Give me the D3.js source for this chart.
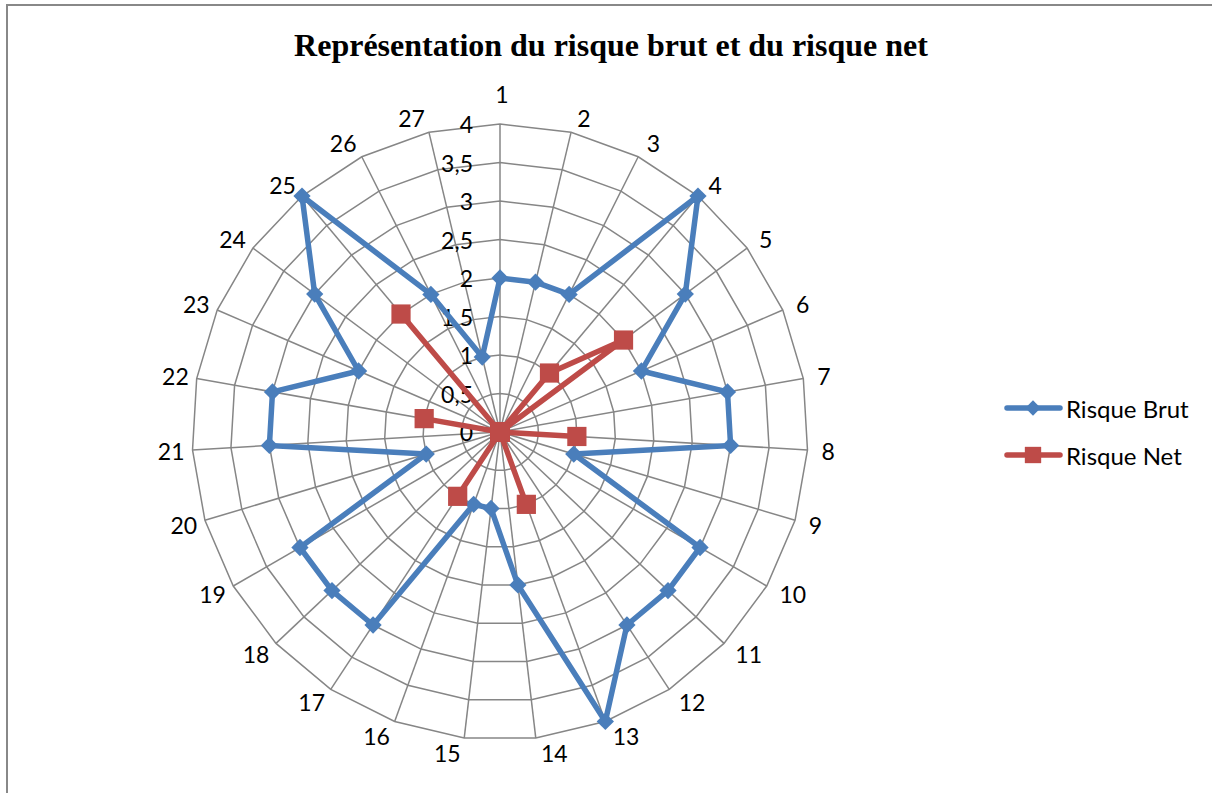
<html>
<head>
  <script src="https://d3js.org/d3.v7.min.js"></script>
  <style>
    body { margin: 0; background: #fff; }
    .grid line, .grid polygon { stroke: #868686; stroke-width: 1.5; fill: none; }
    text { font-family: Lato, "Liberation Sans", sans-serif; fill: #000; }
  </style>
</head>
<body>
<svg id="radar" width="1212" height="793"></svg>

<script>
  // data
  const categories = d3.range(1, 28).map(String);
  const risqueBrut = [2, 2, 2, 4, 3, 2, 3, 3, 1, 3, 3, 3, 4, 2, 1, 1, 3, 3, 3, 1, 3, 3, 2, 3, 4, 2, 1];
  const risqueNet  = [0, 0, 0, 1, 2, 0, 0, 1, 0, 0, 0, 0, 1, 0, 0, 0, 1, 0, 0, 0, 0, 1, 0, 0, 2, 0, 0];
  const tickValues = [0, 0.5, 1, 1.5, 2, 2.5, 3, 3.5, 4];
  const seriesNames = ["Risque Brut", "Risque Net"];
  const seriesColors = ["#4a7ebb", "#be4b48"];

  const svg = d3.select("svg#radar");
  const cx = 500, cy = 432, R = 308;

  const rScale = d3.scaleLinear().domain([0, 4]).range([0, R]);
  const aScale = d3.scaleLinear().domain([0, categories.length]).range([0, 2 * Math.PI]);
  const fmt = d3.formatLocale({decimal: ",", thousands: " ", grouping: [3], currency: ["", "€"]}).format("~g");

  // outer frame of the chart area
  svg.append("rect")
    .attr("x", 7).attr("y", 5)
    .attr("width", 1300).attr("height", 900)
    .attr("fill", "none").attr("stroke", "#888").attr("stroke-width", 2);

  svg.append("text")
    .attr("x", 611).attr("y", 56)
    .attr("text-anchor", "middle")
    .style("font-family", "'Liberation Serif', 'Times New Roman', serif")
    .style("font-weight", "bold")
    .style("font-size", "32px")
    .text("Représentation du risque brut et du risque net");

  let chart = svg.append("g").attr("transform", "translate(" + cx + "," + cy + ")");

  const px = (i, v) => Math.sin(aScale(i)) * rScale(v);
  const py = (i, v) => -Math.cos(aScale(i)) * rScale(v);

  // grid: polygon rings + spokes
  let grid = chart.append("g").attr("class", "grid");
  grid.selectAll("polygon").data(tickValues.filter(t => t > 0))
    .join("polygon")
    .attr("points", t => categories.map((c, i) => px(i, t) + "," + py(i, t)).join(" "));
  grid.selectAll("line").data(categories)
    .join("line")
    .attr("x1", 0).attr("y1", 0)
    .attr("x2", (c, i) => px(i, 4))
    .attr("y2", (c, i) => py(i, 4));

  // category labels, placed like excel does: beside the outer vertex
  chart.selectAll("text.cat").data(categories)
    .join("text")
    .attr("class", "cat")
    .style("font-size", "23px")
    .attr("dominant-baseline", "central")
    .attr("text-anchor", (c, i) => {
      let s = Math.sin(aScale(i));
      return Math.abs(s) < 0.05 ? "middle" : (s > 0 ? "start" : "end");
    })
    .attr("x", (c, i) => {
      let s = Math.sin(aScale(i));
      if (Math.abs(s) < 0.05) return px(i, 4) + 2;
      return px(i, 4) + (s > 0 ? 4 + 10 * s : -(3 + 5 * Math.abs(s)));
    })
    .attr("y", (c, i) => {
      let s = Math.sin(aScale(i)), co = Math.cos(aScale(i));
      return py(i, 4) - co * (Math.abs(s) < 0.05 ? 30 : 15);
    })
    .text(d => d);

  // radial tick labels
  chart.selectAll("text.tick").data(tickValues)
    .join("text")
    .attr("class", "tick")
    .style("font-size", "23px")
    .attr("text-anchor", "end")
    .attr("dominant-baseline", "central")
    .attr("x", -27)
    .attr("y", d => -rScale(d))
    .text(d => fmt(d));

  const line = d3.line()
    .x((d, i) => px(i, d))
    .y((d, i) => py(i, d))
    .curve(d3.curveLinearClosed);

  const symbols = [d3.symbol().type(d3.symbolDiamond2).size(190), d3.symbol().type(d3.symbolSquare2).size(470)];
  const allSeries = [risqueBrut, risqueNet];

  allSeries.forEach((vals, s) => {
    let g = chart.append("g");
    g.append("path")
      .attr("d", line(vals))
      .attr("fill", "none")
      .attr("stroke", seriesColors[s])
      .attr("stroke-width", 5.5)
      .attr("stroke-linejoin", "round");
    g.selectAll("path.marker").data(vals)
      .join("path")
      .attr("class", "marker")
      .attr("d", symbols[s])
      .attr("transform", (d, i) => "translate(" + px(i, d) + "," + py(i, d) + ")")
      .attr("fill", seriesColors[s]);
  });

  // legend
  let legend = svg.append("g").attr("transform", "translate(1007,408)");
  seriesNames.forEach((name, s) => {
    let row = legend.append("g").attr("transform", "translate(0," + (s * 47) + ")");
    row.append("line")
      .attr("x1", 0).attr("x2", 53).attr("y1", 0).attr("y2", 0)
      .attr("stroke", seriesColors[s]).attr("stroke-width", 5.5).attr("stroke-linecap", "round");
    row.append("path")
      .attr("d", s === 0 ? d3.symbol().type(d3.symbolDiamond2).size(150)() : d3.symbol().type(d3.symbolSquare2).size(340)())
      .attr("transform", "translate(26,0)")
      .attr("fill", seriesColors[s]);
    row.append("text")
      .attr("x", 59).attr("y", 0)
      .attr("dominant-baseline", "central")
      .style("font-size", "24px")
      .text(name);
  });
</script>
</body>
</html>
